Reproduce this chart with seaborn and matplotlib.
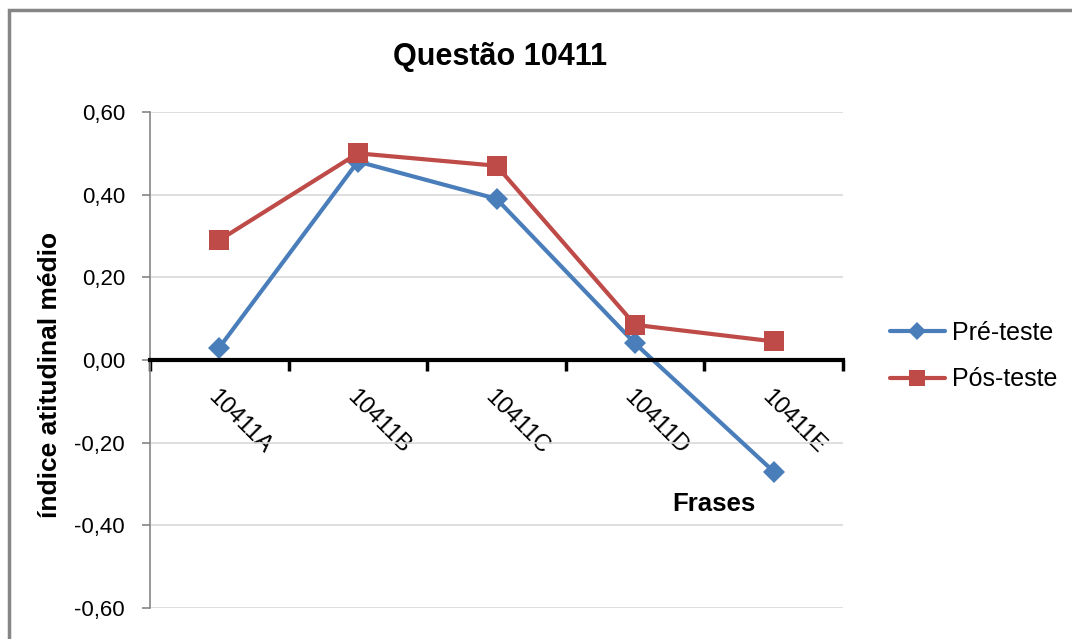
import numpy as np
import matplotlib
matplotlib.use("Agg")
import matplotlib.pyplot as plt
import seaborn as sns
from matplotlib.patches import Rectangle
from matplotlib.ticker import FuncFormatter

# data
frases = ["10411A", "10411B", "10411C", "10411D", "10411E"]
pre_teste = [0.03, 0.48, 0.39, 0.04, -0.27]
pos_teste = [0.29, 0.50, 0.47, 0.085, 0.045]

azul = "#4A7EBB"
vermelho = "#BE4B48"

sns.set_theme(style="white")
plt.rcParams["font.family"] = ["Liberation Sans", "DejaVu Sans"]
plt.rcParams["text.color"] = "black"
plt.rcParams["axes.labelcolor"] = "black"
plt.rcParams["xtick.color"] = "black"
plt.rcParams["ytick.color"] = "black"

fig = plt.figure(figsize=(10.72, 6.39), dpi=100)
ax = fig.add_axes([150 / 1072, 1 - 608 / 639, 693 / 1072, 496 / 639])

# outer frame like the excel chart border
fig.patches.append(Rectangle((9 / 1072, -0.05), 1.1, 1 - 10 / 639 + 0.05,
                             transform=fig.transFigure, fill=False,
                             edgecolor="#868686", linewidth=2.5))

sns.lineplot(x=frases, y=pre_teste, color=azul, marker="D", markersize=11,
             markeredgewidth=0, linewidth=3, label="Pré-teste", ax=ax, sort=False)
sns.lineplot(x=frases, y=pos_teste, color=vermelho, marker="s", markersize=15,
             markeredgewidth=0, linewidth=3, label="Pós-teste", ax=ax, sort=False)

ax.set_xlim(-0.5, 4.5)
ax.set_ylim(-0.6, 0.6)
ax.set_yticks(np.arange(-0.6, 0.61, 0.2))
ax.yaxis.set_major_formatter(FuncFormatter(lambda v, p: f"{v:.2f}".replace(".", ",").replace("-0,00", "0,00")))
ax.grid(axis="y", color="#d9d9d9", linewidth=1.2)
ax.set_axisbelow(True)

for s in ["top", "right"]:
    ax.spines[s].set_visible(False)
ax.spines["left"].set_color("#868686")
ax.spines["left"].set_linewidth(1.2)
ax.spines["bottom"].set_position(("data", 0))
ax.spines["bottom"].set_color("black")
ax.spines["bottom"].set_linewidth(3)

ax.tick_params(axis="y", left=True, length=6, width=1.2, color="#868686",
               labelsize=16, pad=12)
ax.set_xticks(range(len(frases)))
ax.set_xticklabels(frases, rotation=-45, ha="left", va="top",
                   rotation_mode="anchor", fontsize=17)
ax.tick_params(axis="x", which="major", length=0, pad=19)
ax.set_xticks(np.arange(-0.5, 4.6, 1), minor=True)
ax.tick_params(axis="x", which="minor", bottom=True, length=8, width=2.5, color="black")

ax.set_xlabel("")
ax.set_ylabel("índice atitudinal médio", fontsize=19, fontweight="bold")
ax.yaxis.set_label_coords(-88 / 693, 0.47)
fig.text(714 / 1072, 1 - 504 / 639, "Frases", fontsize=18.5, fontweight="bold",
         ha="center", va="center")
fig.text(500 / 1072, 1 - 57 / 639, "Questão 10411", fontsize=22, fontweight="bold",
         ha="center", va="center")

ax.legend(loc="center left", bbox_to_anchor=(867 / 1072, 1 - 356 / 639),
          bbox_transform=fig.transFigure, frameon=False, fontsize=18,
          handlelength=2.2, labelspacing=0.9, handletextpad=0.3, markerscale=0.8)

fig.savefig("out.png", dpi=100)
